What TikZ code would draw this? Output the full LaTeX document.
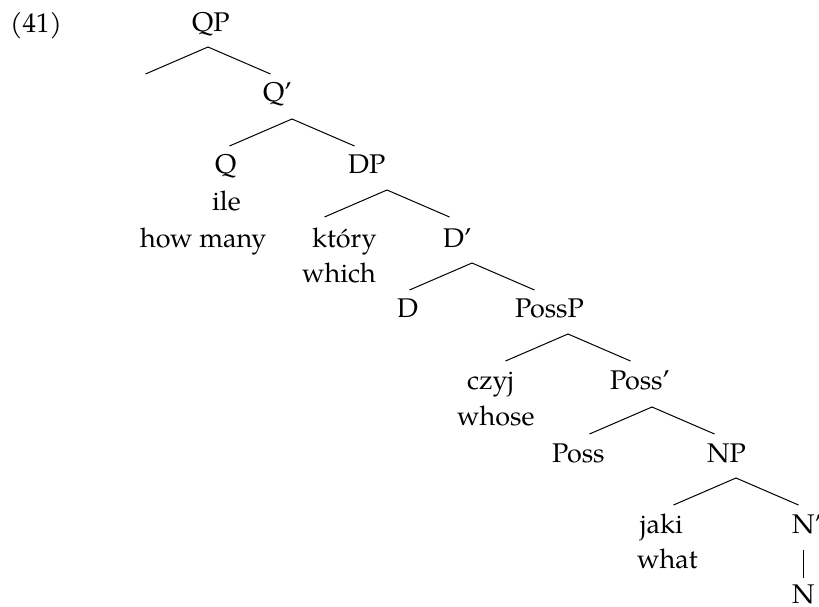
\documentclass[tikz,border=0pt]{standalone}
\usepackage{fontspec}
\setmainfont{TeX Gyre Pagella}
\begin{document}
\begin{tikzpicture}[x=1pt,y=-1pt,
  lbl/.style={anchor=base west,inner sep=0pt,font=\fontsize{27}{32}\selectfont},
  edge/.style={line width=1pt}]
\useasboundingbox (0,0) rectangle (819,607);
% labels
\node[lbl] (ex)    at (10,32.5) {(41)};
\node[lbl] (qp)    at (192,32) {QP};
\node[lbl] (qbar)  at (263,102) {Q’};
\node[lbl] (q)     at (215,173) {Q};
\node[lbl] (dp)    at (348,173) {DP};
\node[lbl] (ile)   at (212,210) {ile};
\node[lbl] (howmany) at (140,247) {how many};
\node[lbl] (ktory) at (312,247) {który};
\node[lbl] (dbar)  at (443,247) {D’};
\node[lbl] (which) at (302,282) {which};
\node[lbl] (d)     at (397,317) {D};
\node[lbl] (possp) at (515,317) {PossP};
\node[lbl] (czyj)  at (467,389) {czyj};
\node[lbl] (possbar) at (610,389) {Poss’};
\node[lbl] (whose) at (457,425) {whose};
\node[lbl] (poss)  at (552,462) {Poss};
\node[lbl] (np)    at (707,462) {NP};
\node[lbl] (jaki)  at (640,533) {jaki};
\node[lbl] (nbar)  at (792,533) {N’};
\node[lbl] (what)  at (637,568) {what};
\node[lbl] (n)     at (792,603) {N};
% branch points
\foreach \nm/\x/\y in {qp/208/47, qbar/292/119, dp/387/190, dbar/472/263, possp/568/334, possbar/652/407, np/736/478}{
  \coordinate (\nm-a) at (\x,\y);
  \coordinate (\nm-l) at (\x-62.5,\y+27);
  \coordinate (\nm-r) at (\x+62.5,\y+27);
  \draw[edge] (\nm-l) -- (\nm-a) -- (\nm-r);
}
\coordinate (bar-t) at (803,550);
\coordinate (bar-b) at (803,578);
\draw[edge] (bar-t) -- (bar-b);
\end{tikzpicture}
\end{document}
